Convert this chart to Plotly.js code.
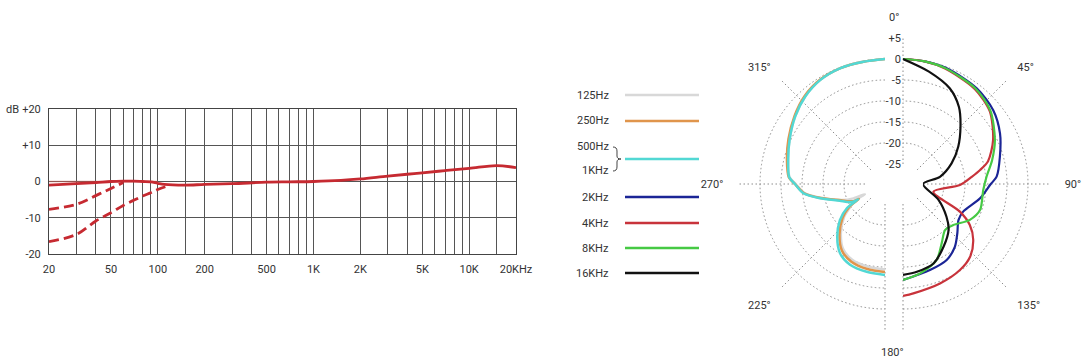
<!DOCTYPE html>
<html><head><meta charset="utf-8">
<script src="https://cdn.plot.ly/plotly-3.0.1.min.js"></script>
<style>html,body{margin:0;padding:0;background:#fff}#chart{width:1085px;height:362px}</style>
</head><body><div id="chart"></div>
<script>
// ---------- Frequency response data ----------
const freqSolid = [20,30,40,50,60,70,80,90,100,110,150,200,300,500,700,1000,1500,2000,3000,4000,5000,7000,10000,15000,20000];
const dbSolid   = [-1.0,-0.6,-0.3,0,0.1,0.1,0,-0.1,-0.5,-0.8,-1.0,-0.8,-0.6,-0.2,-0.1,0,0.3,0.7,1.5,2.0,2.4,3.0,3.6,4.4,3.8];
const freqCut1 = [20,30,40,50,60];
const dbCut1   = [-7.7,-6.3,-3.9,-1.9,-0.3];
const freqCut2 = [20,30,40,50,60,70,80,90,100,120];
const dbCut2   = [-16.6,-14.6,-10.9,-8.6,-6.6,-5.2,-4.0,-3.1,-2.2,-1.0];
const freqFlat = [20,100];
const dbFlat   = [0,0];
const gridFreqs  = [20,30,40,50,60,70,80,90,100,150,200,300,400,500,600,700,800,900,1000,2000,3000,4000,5000,6000,7000,8000,9000,10000,15000,20000];
const gridLabels = ['20','','','50','','','','','100','','200','','','500','','','','','1K','2K','','','5K','','','','','10K','','20KHz'];
const dbTicks  = [-20,-10,0,10,20];
const dbLabels = ['-20','-10','0','+10','+20'];

// ---------- Polar pattern data (left half) ----------
const theta500 = [0,350,339,328,317.5,307,295,284,274,270,263.5,257.6,249.6,244.5,240.8,240.2,237.6,231.3,222.1,213,203.4,191.8,180];
const r500     = [0,-0.2,-0.2,-0.6,-1.6,-3.0,-4.7,-6.0,-6.9,-8.3,-10.2,-13.9,-18.3,-19.8,-21.1,-22.4,-19.0,-16.0,-12.8,-10.1,-8.8,-8.4,-8.1];
const theta250 = [0,350,339,328,317.5,307,295,284,274,270,263.5,257.6,249.6,244.5,240.8,240.2,237.6,231.3,222.1,213,203.4,191.8,180];
const r250     = [0,-0.2,-0.2,-0.5,-1.4,-2.8,-4.4,-5.7,-6.8,-8.3,-10.4,-14.2,-18.6,-20.2,-21.5,-22.6,-19.8,-16.8,-13.6,-10.9,-9.6,-9.1,-8.8];
const theta125 = [0,350,339,328,317.5,307,295,284,274,270,263.5,257.6,249.6,245.5,243,241,237.6,231.3,222.1,213,203.4,191.8,180];
const r125     = [0,-0.2,-0.2,-0.6,-1.6,-3.0,-4.7,-6.0,-7.0,-8.5,-10.5,-14.2,-18.8,-21.5,-24.4,-21.5,-20.3,-17.3,-14.1,-11.4,-10.1,-9.7,-9.4];
// ---------- Polar pattern data (right half) ----------
const theta2k = [0,10,20.7,37.6,50.7,62.4,74.3,85.5,90.5,100.5,114.7,123.1,132.2,140.3,150.1,162.6,180];
const r2k     = [0,-0.1,-0.3,-1.0,-2.0,-3.7,-5.8,-7.4,-9.0,-11.1,-14.0,-14.0,-12.3,-10.4,-8.9,-8.3,-6.9];
const theta4k = [0,10,20,37,50,64,75,79.7,84,91,104.3,115.9,121.5,128.5,137.3,146.5,159.6,174.6,180];
const r4k     = [0,-0.1,-0.5,-1.4,-2.8,-5.9,-8.8,-11.1,-13.3,-16.2,-22.3,-14.7,-11.1,-8.4,-6.2,-5.2,-4.5,-3.6,-3.1];
const theta8k = [0,10,20,37,50,64.4,75,85,94.3,108.7,118.2,129.2,137.6,146.9,156.1,169.2,180];
const r8k     = [0,-0.1,-0.4,-1.2,-2.6,-5.5,-7.8,-9.8,-10.6,-10.4,-11.7,-14.3,-14.9,-12.9,-10.0,-8.1,-6.9];
const theta16k = [0,13,26,36,45,56,67,79,90,114,127,135,147,159,171,180];
const r16k     = [0,-2.3,-4.4,-7.1,-10.4,-13.9,-17.2,-20.8,-25,-20.5,-16.8,-14.4,-12.0,-9.5,-8.6,-8.1];
const radialTicks  = [-25,-20,-15,-10,-5,0,5];
const radialLabels = ['-25','-20','-15','-10','-5','0','+5'];

// ---------- Legend ----------
const legendNames = ['125Hz','250Hz','500Hz','1KHz','2KHz','4KHz','8KHz','16KHz'];

// ---------- Styles ----------
const RED = '#c62a31';
const C125='#d8d8d8', C250='#e0954c', C500='#52d8d4', C2K='#1b2596', C4K='#c8333b', C8K='#46c944', C16K='#111111';

const W=1085, H=362;
const px = x => x/W, py = y => 1 - y/H;

const pl = (color, w) => ({color:color, width:w, shape:'spline', smoothing:0.8});
const traces = [
  {type:'scatter', x:freqFlat, y:dbFlat, mode:'lines', line:{color:'rgba(200,90,80,0.55)', width:1.5}, hoverinfo:'skip'},
  {type:'scatter', x:freqCut2, y:dbCut2, mode:'lines', line:{color:RED, width:2.8, dash:'10px,5px', shape:'spline'}},
  {type:'scatter', x:freqCut1, y:dbCut1, mode:'lines', line:{color:RED, width:2.8, dash:'10px,5px', shape:'spline'}},
  {type:'scatter', x:freqSolid, y:dbSolid, mode:'lines', line:{color:RED, width:2.8, shape:'spline'}},
  {type:'scatterpolar', subplot:'polar', theta:theta125, r:r125, mode:'lines', line:pl(C125, 2.5)},
  {type:'scatterpolar', subplot:'polar', theta:theta250, r:r250, mode:'lines', line:pl(C250, 2.5)},
  {type:'scatterpolar', subplot:'polar', theta:theta500, r:r500, mode:'lines', line:pl(C500, 2.5)},
  {type:'scatterpolar', subplot:'polar2', theta:theta2k, r:r2k, mode:'lines', line:pl(C2K, 2.2)},
  {type:'scatterpolar', subplot:'polar2', theta:theta4k, r:r4k, mode:'lines', line:pl(C4K, 2.2)},
  {type:'scatterpolar', subplot:'polar2', theta:theta8k, r:r8k, mode:'lines', line:pl(C8K, 2.2)},
  {type:'scatterpolar', subplot:'polar2', theta:theta16k, r:r16k, mode:'lines', line:pl(C16K, 2.2)}
];

const gridDot = '1.5px,2.5px';
function polarCfg(xa, xb, sector, angVals, angText, showRadLabels){
  return {
    domain:{x:[px(xa),px(xb)], y:[py(330),py(38)]},
    sector: sector,
    hole: 20/146,
    bgcolor:'rgba(0,0,0,0)',
    radialaxis:{range:[-25,5], tickvals:radialTicks, ticktext:radialLabels, showticklabels:showRadLabels,
      angle:90, side:'counterclockwise', tickangle:90, ticks:'', showline:false,
      gridcolor:'#8c8c8c', griddash:gridDot, gridwidth:1, tickfont:{size:11,color:'#333'}},
    angularaxis:{rotation:90, direction:'clockwise', tickmode:'array', tickvals:angVals, ticktext:angText,
      showline:false, gridcolor:'#8c8c8c', griddash:gridDot, gridwidth:1,
      ticks:'outside', ticklen:13, tickcolor:'rgba(0,0,0,0)', tickfont:{size:11,color:'#333'}}
  };
}

const shapes = [];
const annotations = [
  {text:'dB', x:px(12), y:py(109), xref:'paper', yref:'paper', showarrow:false, xanchor:'center', yanchor:'middle', font:{size:11,color:'#333'}},
  {text:'0°', x:px(894), y:py(17), xref:'paper', yref:'paper', showarrow:false, xanchor:'center', yanchor:'middle', font:{size:11,color:'#333'}},
  {text:'180°', x:px(893), y:py(352), xref:'paper', yref:'paper', showarrow:false, xanchor:'center', yanchor:'middle', font:{size:11,color:'#333'}}
];
const legendTextY = [95,121,146,171,197,223,248,273];
legendNames.forEach((n,i)=>{
  annotations.push({text:n, x:px(611), y:py(legendTextY[i]), xref:'paper', yref:'paper', showarrow:false,
    xanchor:'right', yanchor:'middle', font:{size:11,color:'#333'}});
});
const legendLineY = [95,121,159,197,223,248,273];
const legendColors = [C125,C250,C500,C2K,C4K,C8K,C16K];
legendLineY.forEach((y,i)=>{
  shapes.push({type:'line', xref:'paper', yref:'paper', x0:px(625), x1:px(699), y0:py(y), y1:py(y), line:{color:legendColors[i], width:2.5}});
});
// brace joining 500Hz and 1KHz
const P = (x,y)=> px(x).toFixed(5)+','+py(y).toFixed(5);
shapes.push({type:'path', xref:'paper', yref:'paper', line:{color:'#444', width:1},
  path:'M'+P(613,147)+' Q'+P(617,147)+' '+P(617,151)+' L'+P(617,156)+' Q'+P(617,159)+' '+P(621,159)+
       ' Q'+P(617,159)+' '+P(617,162)+' L'+P(617,167)+' Q'+P(617,171)+' '+P(613,171)});

const layout = {
  width:W, height:H, margin:{l:0,r:0,t:0,b:0}, paper_bgcolor:'#fff', plot_bgcolor:'#fff',
  font:{family:'Roboto, sans-serif', size:11, color:'#333'},
  showlegend:false,
  xaxis:{type:'log', domain:[px(49),px(516)], range:[Math.log10(20),Math.log10(20000)],
    tickmode:'array', tickvals:gridFreqs, ticktext:gridLabels, showgrid:true, gridcolor:'#555', gridwidth:1,
    showline:true, mirror:true, linecolor:'#444', linewidth:1, ticks:'', zeroline:false, ticklabelstandoff:5,
    tickfont:{size:11,color:'#333'}},
  yaxis:{domain:[py(254),py(109)], range:[-20,20], tickmode:'array', tickvals:dbTicks, ticktext:dbLabels,
    showgrid:true, gridcolor:'#555', gridwidth:1, showline:true, mirror:true, linecolor:'#444', linewidth:1,
    ticks:'', zeroline:false, ticklabelstandoff:5, tickfont:{size:11,color:'#333'}},
  polar: polarCfg(739, 885, [-270,-90], [180,225,270,315,0], ['','225°','270°','315°',''], false),
  polar2: polarCfg(903, 1049, [-90,90], [0,45,90,135,180], ['','45°','90°','135°',''], true),
  shapes: shapes,
  annotations: annotations
};

Plotly.newPlot('chart', traces, layout, {staticPlot:true, displayModeBar:false});
</script>
</body></html>
